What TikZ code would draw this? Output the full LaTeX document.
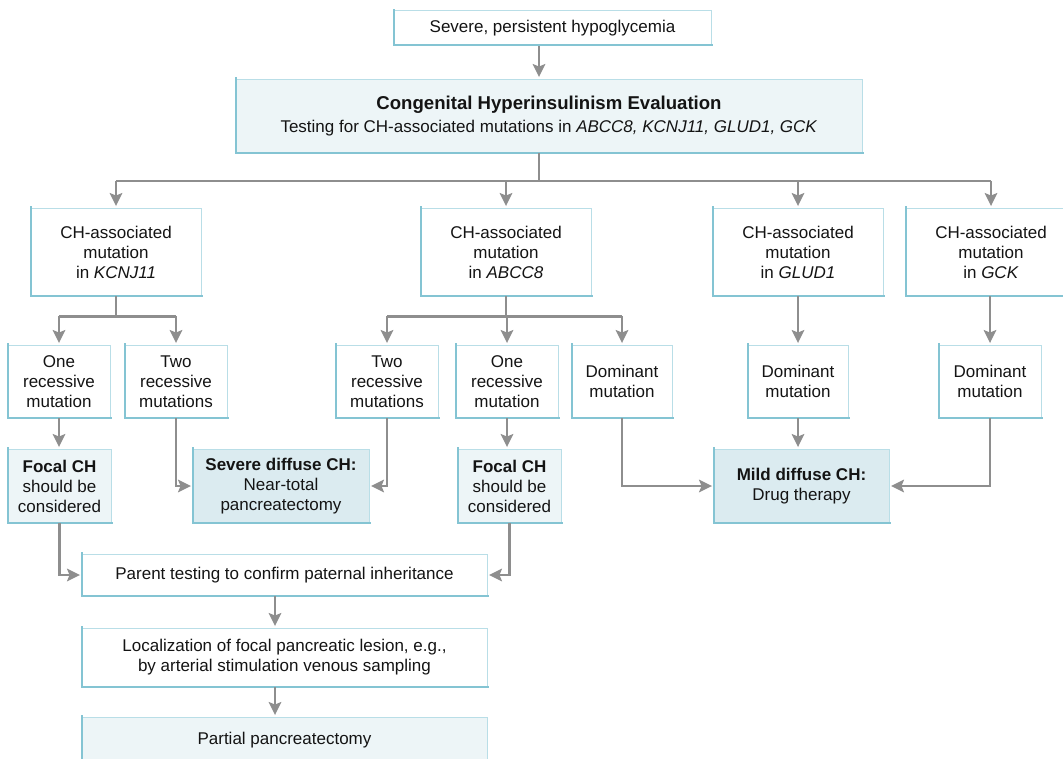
\documentclass[tikz,border=0pt]{standalone}
\usepackage{fontspec}
\setmainfont{Liberation Sans}
\usetikzlibrary{arrows.meta}
\definecolor{edgeblue}{HTML}{B9DEE7}
\definecolor{shadeblue}{HTML}{84C4D3}
\definecolor{fillpale}{HTML}{EDF5F7}
\definecolor{filldeep}{HTML}{DBEBF0}
\definecolor{arrowgray}{HTML}{8E8E8E}
\tikzset{
  boxbase/.style={draw=edgeblue, line width=0.9pt, inner sep=0pt, align=center,
    font=\fontsize{17}{20}\selectfont, text=black!92},
  wbox/.style={boxbase, fill=white},
  pbox/.style={boxbase, fill=fillpale},
  dbox/.style={boxbase, fill=filldeep},
  shadeline/.style={draw=shadeblue, line width=2.2pt, line cap=rect},
  ln/.style={draw=arrowgray, line width=2.2pt},
  ar/.style={ln, -{Stealth[length=13pt,width=12.5pt,inset=2.5pt]}, shorten >=1.5pt},
}
\begin{document}
\begin{tikzpicture}[x=1pt,y=-1pt]
\useasboundingbox (0,0) rectangle (1063,759);

% top
\node[wbox, minimum width=317, minimum height=35] (s) at (552.5,28) {Severe, persistent hypoglycemia};
\node[pbox, minimum width=626, minimum height=74] (ev) at (549,116)
  {{\fontsize{18.6}{20}\selectfont\bfseries Congenital Hyperinsulinism Evaluation}\\[3pt]
   Testing for CH-associated mutations in \textit{ABCC8, KCNJ11, GLUD1, GCK}};
\coordinate (spine) at (539,0);
\coordinate (bus) at (539,181);

% row 3
\node[wbox, minimum width=171, minimum height=88] (k)  at (116,252) {CH-associated\\mutation\\in \textit{KCNJ11}};
\node[wbox, minimum width=171, minimum height=88] (a)  at (506,252) {CH-associated\\mutation\\in \textit{ABCC8}};
\node[wbox, minimum width=170, minimum height=88] (g)  at (798,252) {CH-associated\\mutation\\in \textit{GLUD1}};
\node[wbox, minimum width=171, minimum height=88] (gk) at (991,252) {CH-associated\\mutation\\in \textit{GCK}};

% row 4
\node[wbox, minimum width=102, minimum height=73] (or1) at (59,381.5) {One\\recessive\\mutation};
\node[wbox, minimum width=102, minimum height=73] (tr1) at (176,381.5) {Two\\recessive\\mutations};
\node[wbox, minimum width=102, minimum height=73] (tr2) at (387,381.5) {Two\\recessive\\mutations};
\node[wbox, minimum width=102, minimum height=73] (or2) at (507,381.5) {One\\recessive\\mutation};
\node[wbox, minimum width=101, minimum height=73] (dm1) at (622,381.5) {Dominant\\mutation};
\node[wbox, minimum width=101, minimum height=73] (dm2) at (798,381.5) {Dominant\\mutation};
\node[wbox, minimum width=102, minimum height=73] (dm3) at (990,381.5) {Dominant\\mutation};

% row 5
\node[pbox, minimum width=103, minimum height=74] (f1) at (59.5,486) {\textbf{Focal CH}\\should be\\considered};
\node[dbox, minimum width=176, minimum height=74] (sd) at (281,486) {\textbf{Severe diffuse CH:}\\Near-total\\pancreatectomy};
\node[pbox, minimum width=103, minimum height=74] (f2) at (509.5,486) {\textbf{Focal CH}\\should be\\considered};
\node[dbox, minimum width=175, minimum height=74] (md) at (801.5,486) {\textbf{Mild diffuse CH:}\\Drug therapy};

% bottom
\node[wbox, minimum width=405, minimum height=42] (pt) at (284.5,575) {Parent testing to confirm paternal inheritance};
\node[wbox, minimum width=405, minimum height=59] (lo) at (284.5,657.5) {Localization of focal pancreatic lesion, e.g.,\\by arterial stimulation venous sampling};
\node[pbox, minimum width=405, minimum height=46] (pp) at (284.5,740) {Partial pancreatectomy};
\coordinate (lowspine) at (275,0);

% left and bottom shade edges of the boxes
\foreach \n in {s,ev,k,a,g,gk,or1,tr1,tr2,or2,dm1,dm2,dm3,f1,sd,f2,md,pt,lo,pp}
  \draw[shadeline] ([xshift=0.8pt]\n.north west) -- ([xshift=0.8pt,yshift=0.8pt]\n.south west) -- ([yshift=0.8pt]\n.south east);

% connectors
\draw[ar] (s.south -| spine) -- (ev.north -| spine);
\draw[ln] (ev.south -| spine) -- (bus);
\draw[ln] (bus -| k.north) -- (bus -| gk.north);
\draw[ar] (bus -| k.north) -- (k.north);
\draw[ar] (bus -| a.north) -- (a.north);
\draw[ar] (bus -| g.north) -- (g.north);
\draw[ar] (bus -| gk.north) -- (gk.north);

\draw[ln] (k.south) -- ++(0,20) coordinate (kb);
\draw[ln] (kb -| or1.north) -- (kb -| tr1.north);
\draw[ar] (kb -| or1.north) -- (or1.north);
\draw[ar] (kb -| tr1.north) -- (tr1.north);

\draw[ln] (a.south) -- ++(0,20) coordinate (ab);
\draw[ln] (ab -| tr2.north) -- (ab -| dm1.north);
\draw[ar] (ab -| tr2.north) -- (tr2.north);
\draw[ar] (ab -| or2.north) -- (or2.north);
\draw[ar] (ab -| dm1.north) -- (dm1.north);

\draw[ar] (g.south -| dm2.north) -- (dm2.north);
\draw[ar] (gk.south -| dm3.north) -- (dm3.north);

\draw[ar] (or1.south) -- (or1.south |- f1.north);
\draw[ar] (tr1.south) |- (sd.west);
\draw[ar] (tr2.south) |- (sd.east);
\draw[ar] (or2.south) -- (or2.south |- f2.north);
\draw[ar] (dm1.south) |- (md.west);
\draw[ar] (dm2.south) -- (dm2.south |- md.north);
\draw[ar] (dm3.south) |- (md.east);

\draw[ar] (f1.south) |- (pt.west);
\draw[ar] (f2.south) |- (pt.east);
\draw[ar] (pt.south -| lowspine) -- (lo.north -| lowspine);
\draw[ar] (lo.south -| lowspine) -- (pp.north -| lowspine);
\end{tikzpicture}
\end{document}
